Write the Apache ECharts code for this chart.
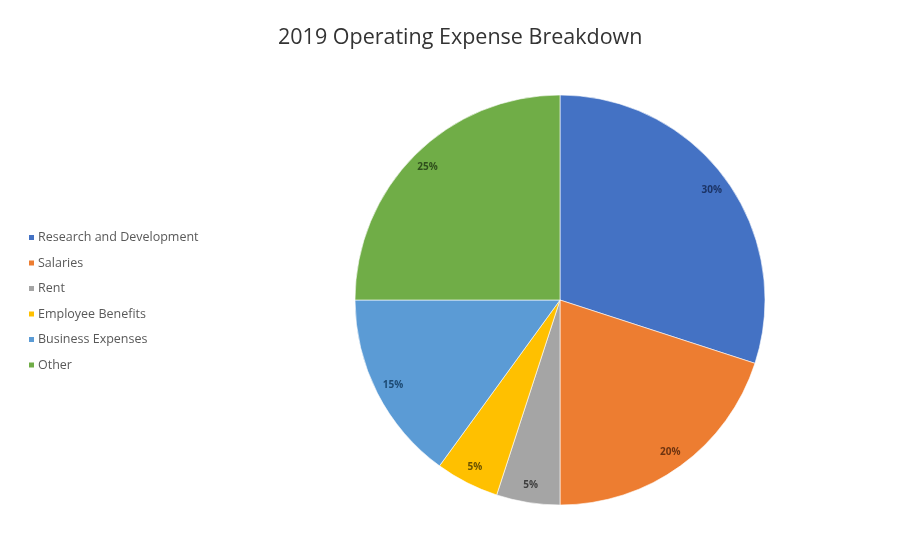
<!DOCTYPE html>
<html>
<head>
<meta charset="utf-8">
<script src="https://cdn.jsdelivr.net/npm/echarts@6/dist/echarts.min.js"></script>
<style>
  html, body { margin: 0; padding: 0; background: #ffffff; }
  #chart { width: 899px; height: 544px; }
</style>
</head>
<body>
<div id="chart"></div>
<script>
// Expense categories and their share of 2019 operating expenses (%)
const categories = ['Research and Development', 'Salaries', 'Rent', 'Employee Benefits', 'Business Expenses', 'Other'];
const shares = [30, 20, 5, 5, 15, 25];

// Slice fill colours and matching darker label colours
const sliceColors = ['#4472C4', '#ED7D31', '#A5A5A5', '#FFC000', '#5B9BD5', '#70AD47'];
const labelColors = ['#1c3466', '#6e3410', '#3f3f3f', '#6b5200', '#1d4a73', '#2f4f1c'];

const pieData = categories.map((name, i) => ({
  name: name,
  value: shares[i],
  itemStyle: { color: sliceColors[i] }
}));

const labelData = categories.map((name, i) => ({
  name: name,
  value: shares[i],
  label: { color: labelColors[i] }
}));

const chart = echarts.init(document.getElementById('chart'), null, { renderer: 'canvas' });

chart.setOption({
  animation: false,
  backgroundColor: '#ffffff',
  title: {
    text: '2019 Operating Expense Breakdown',
    left: 273,
    top: 22,
    textStyle: {
      fontFamily: 'Open Sans',
      fontSize: 21.5,
      fontWeight: 'normal',
      color: '#333333'
    }
  },
  legend: {
    orient: 'vertical',
    left: 22,
    top: 226,
    itemWidth: 7,
    itemHeight: 7,
    itemGap: 12.5,
    icon: 'rect',
    data: categories,
    textStyle: {
      fontFamily: 'Open Sans',
      fontSize: 12.5,
      color: '#595959',
      padding: [0, 0, 0, -2]
    }
  },
  series: [
    {
      name: 'Expenses',
      type: 'pie',
      center: [560, 300],
      radius: [0, 205],
      startAngle: 90,
      clockwise: true,
      data: pieData,
      label: { show: false },
      labelLine: { show: false },
      itemStyle: { borderColor: '#ffffff', borderWidth: 0.6 },
      emphasis: { disabled: true }
    },
    {
      // Transparent ring that carries the percentage labels near the rim
      name: 'Labels',
      type: 'pie',
      center: [560, 300],
      radius: [164, 205],
      startAngle: 90,
      clockwise: true,
      silent: true,
      data: labelData,
      itemStyle: { color: 'rgba(0,0,0,0)' },
      label: {
        show: true,
        position: 'inside',
        formatter: '{d}%',
        fontFamily: 'Open Sans',
        fontSize: 10,
        fontWeight: 'bold'
      },
      labelLine: { show: false },
      emphasis: { disabled: true }
    }
  ]
});
</script>
</body>
</html>
